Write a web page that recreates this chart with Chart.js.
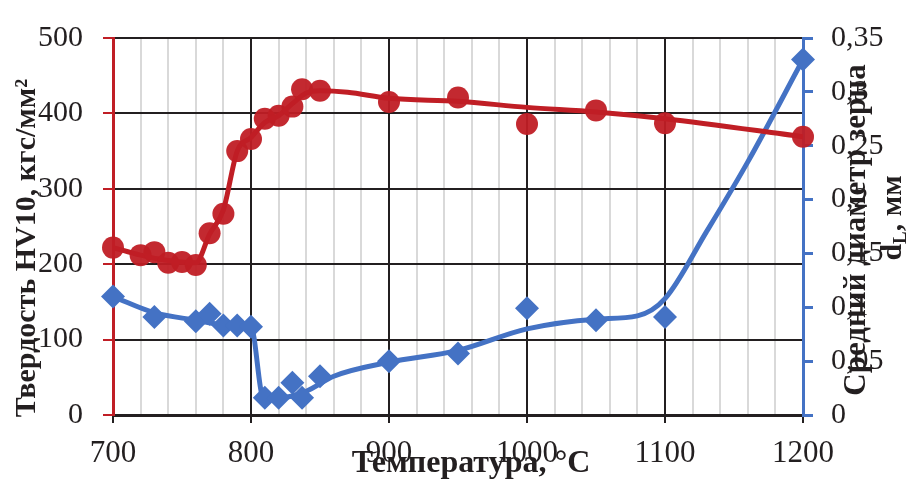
<!DOCTYPE html>
<html>
<head>
<meta charset="utf-8">
<script src="https://cdn.jsdelivr.net/npm/chart.js@4"></script>
<style>
  html, body { margin: 0; padding: 0; background: #fff; }
  #wrap { width: 913px; height: 479px; }
</style>
</head>
<body>
<div id="wrap"><canvas id="myChart"></canvas></div>
<script>
// hardness HV10 (measured points)
const hvTemps = [700, 720, 730, 740, 750, 760, 770, 780, 790, 800, 810, 820, 830, 837, 850, 900, 950, 1000, 1050, 1100, 1200];
const hvValues = [222, 212, 216, 202, 203, 199, 241, 267, 350, 366, 393, 397, 409, 432, 430, 415, 421, 386, 404, 387, 369];
// hardness trend curve
const hvFitTemps = [700, 720, 740, 760, 770, 780, 790, 800, 810, 820, 830, 840, 850, 870, 900, 950, 1000, 1050, 1100, 1200];
const hvFitValues = [222, 212, 205, 202, 240, 272, 350, 368, 388, 397, 413, 427, 430, 428, 420, 416, 408, 402, 393, 369];

// mean grain diameter dL, mm (measured points)
const dTemps = [700, 730, 760, 770, 780, 790, 800, 810, 820, 830, 837, 850, 900, 950, 1000, 1050, 1100, 1200];
const dValues = [0.110, 0.091, 0.087, 0.094, 0.083, 0.083, 0.082, 0.016, 0.016, 0.030, 0.016, 0.036, 0.050, 0.057, 0.099, 0.088, 0.091, 0.330];
// grain diameter trend curve
const dFitTemps = [700, 730, 760, 780, 800, 809, 820, 840, 860, 900, 950, 1000, 1050, 1080, 1100, 1130, 1160, 1200];
const dFitValues = [0.110, 0.095, 0.088, 0.084, 0.082, 0.016, 0.016, 0.022, 0.036, 0.049, 0.060, 0.080, 0.089, 0.092, 0.108, 0.170, 0.235, 0.330];

// x grid: a line every 20 degrees, labels every 100
const xTickValues = [700, 720, 740, 760, 780, 800, 820, 840, 860, 880, 900, 920, 940, 960, 980,
    1000, 1020, 1040, 1060, 1080, 1100, 1120, 1140, 1160, 1180, 1200];
const rightTickLabels = ['0', '0,05', '0,1', '0,15', '0,2', '0,25', '0,3', '0,35'];

const RED = 'rgb(192, 30, 37)';
const BLUE = 'rgb(68, 114, 196)';
const SERIF = '"Liberation Serif", "Times New Roman", serif';

const toXY = (xs, ys) => xs.map((x, i) => ({ x: x, y: ys[i] }));

// axis titles overlap the tick labels like in the original, so draw them by hand
const axisTitles = {
    id: 'axisTitles',
    afterDraw(chart) {
        const c = chart.ctx;
        c.save();
        c.fillStyle = '#231f20';
        c.textAlign = 'center';
        c.textBaseline = 'middle';

        // left
        c.save();
        c.translate(27, 248);
        c.rotate(-Math.PI / 2);
        c.font = 'bold 30px ' + SERIF;
        c.fillText('Твердость HV10, кгс/мм²', 0, 0);
        c.restore();

        // bottom
        c.font = 'bold 32px ' + SERIF;
        c.fillText('Температура, °С', 471, 464);

        // right, two lines
        c.save();
        c.translate(857, 230);
        c.rotate(-Math.PI / 2);
        c.font = 'bold 31px ' + SERIF;
        c.fillText('Средний диаметр зерна', 0, 0);
        c.restore();

        c.save();
        c.translate(893, 218);
        c.rotate(-Math.PI / 2);
        c.font = 'bold 30px ' + SERIF;
        c.textAlign = 'left';
        const w1 = c.measureText('d').width;
        c.font = 'bold 19px ' + SERIF;
        const w2 = c.measureText('L').width;
        c.font = 'bold 30px ' + SERIF;
        const w3 = c.measureText(', мм').width;
        let x0 = -(w1 + w2 + w3) / 2;
        c.fillText('d', x0, 0);
        c.font = 'bold 19px ' + SERIF;
        c.fillText('L', x0 + w1, 8);
        c.font = 'bold 30px ' + SERIF;
        c.fillText(', мм', x0 + w1 + w2, 0);
        c.restore();

        c.restore();
    }
};

const ctx = document.getElementById('myChart');

new Chart(ctx, {
    type: 'line',
    data: {
        datasets: [
            {
                label: 'HV10 trend',
                data: toXY(hvFitTemps, hvFitValues),
                yAxisID: 'y',
                borderColor: RED,
                borderWidth: 5,
                pointRadius: 0,
                cubicInterpolationMode: 'monotone',
                order: 1,
            },
            {
                label: 'HV10',
                data: toXY(hvTemps, hvValues),
                yAxisID: 'y',
                showLine: false,
                clip: false,
                pointStyle: 'circle',
                pointRadius: 11,
                pointBackgroundColor: 'rgba(192, 30, 37, 0.95)',
                pointBorderColor: 'rgba(192, 30, 37, 0.95)',
                pointBorderWidth: 0,
                order: 0,
            },
            {
                label: 'dL trend',
                data: toXY(dFitTemps, dFitValues),
                yAxisID: 'y1',
                borderColor: BLUE,
                borderWidth: 5,
                pointRadius: 0,
                cubicInterpolationMode: 'monotone',
                order: 3,
            },
            {
                label: 'dL',
                data: toXY(dTemps, dValues),
                yAxisID: 'y1',
                showLine: false,
                clip: false,
                pointStyle: 'rectRot',
                pointRadius: 12,
                pointBackgroundColor: BLUE,
                pointBorderColor: BLUE,
                pointBorderWidth: 0,
                order: 2,
            },
        ]
    },
    options: {
        responsive: true,
        maintainAspectRatio: false,
        animation: false,
        layout: { padding: { top: 26, left: 0, right: 0, bottom: 0 } },
        plugins: {
            legend: { display: false },
            tooltip: { enabled: false },
        },
        scales: {
            x: {
                type: 'linear',
                min: 700,
                max: 1200,
                afterBuildTicks: (scale) => { scale.ticks = xTickValues.map(v => ({ value: v })); },
                afterFit: (scale) => { scale.height = 64; },
                border: { color: '#231f20', width: 3 },
                grid: {
                    color: (c) => (c.tick && c.tick.value % 100 === 0) ? '#231f20' : '#d9d9d9',
                    lineWidth: 2,
                    tickColor: (c) => (c.tick && c.tick.value % 100 === 0) ? '#231f20' : 'rgba(0,0,0,0)',
                    tickLength: 8,
                },
                ticks: {
                    autoSkip: false,
                    maxRotation: 0,
                    padding: 12,
                    color: '#231f20',
                    font: { family: SERIF, size: 31 },
                    callback: (v) => v % 100 === 0 ? String(v) : '',
                },
            },
            y: {
                position: 'left',
                min: 0,
                max: 500,
                afterFit: (scale) => { scale.width = 113; },
                border: { color: RED, width: 3 },
                grid: {
                    color: '#231f20',
                    lineWidth: 2,
                    tickColor: RED,
                    tickLength: 10,
                },
                ticks: {
                    stepSize: 100,
                    padding: 20,
                    color: '#231f20',
                    font: { family: SERIF, size: 30 },
                },
            },
            y1: {
                position: 'right',
                min: 0,
                max: 0.35,
                afterFit: (scale) => { scale.width = 110; },
                border: { color: BLUE, width: 3 },
                grid: {
                    drawOnChartArea: false,
                    tickColor: BLUE,
                    lineWidth: 3,
                    tickLength: 10,
                },
                ticks: {
                    stepSize: 0.05,
                    padding: 18,
                    color: '#231f20',
                    font: { family: SERIF, size: 30 },
                    callback: (v, i) => rightTickLabels[i],
                },
            },
        }
    },
    plugins: [axisTitles]
});
</script>
</body>
</html>
